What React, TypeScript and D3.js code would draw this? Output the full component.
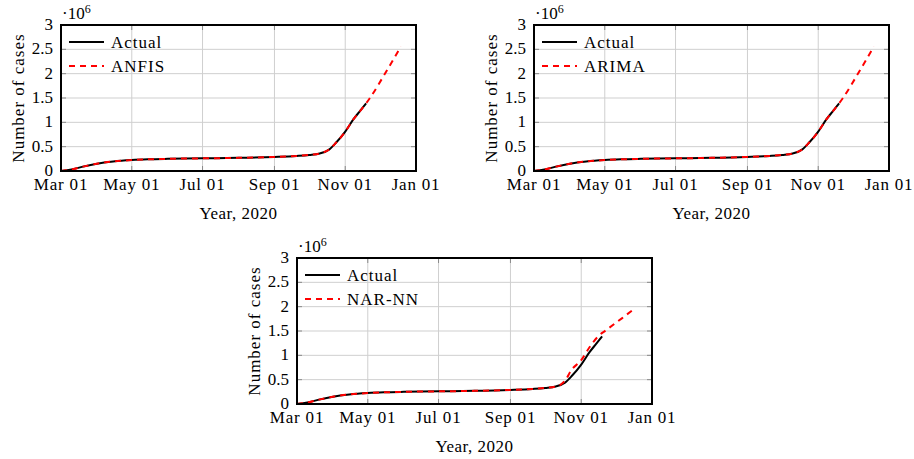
import React from "react";
import * as d3 from "d3";

const actualDates = ["2020-03-01","2020-03-10","2020-03-20","2020-04-01","2020-04-15","2020-05-01","2020-05-15","2020-06-01","2020-07-01","2020-08-01","2020-09-01","2020-09-20","2020-10-01","2020-10-10","2020-10-18","2020-10-24","2020-11-01","2020-11-08","2020-11-14","2020-11-19"];
const actualValues = [0, 0.03, 0.09, 0.15, 0.195, 0.225, 0.24, 0.25, 0.26, 0.27, 0.29, 0.31, 0.33, 0.36, 0.44, 0.58, 0.81, 1.06, 1.24, 1.39];

const anfisDates = ["2020-03-01","2020-03-10","2020-03-20","2020-04-01","2020-04-15","2020-05-01","2020-05-15","2020-06-01","2020-07-01","2020-08-01","2020-09-01","2020-09-20","2020-10-01","2020-10-10","2020-10-18","2020-10-24","2020-11-01","2020-11-08","2020-11-14","2020-11-19","2020-11-22","2020-12-07","2020-12-19"];
const anfisValues = [0, 0.03, 0.09, 0.15, 0.195, 0.225, 0.24, 0.25, 0.26, 0.27, 0.29, 0.31, 0.33, 0.36, 0.44, 0.58, 0.81, 1.06, 1.24, 1.39, 1.49, 2.07, 2.56];

const arimaDates = ["2020-03-01","2020-03-10","2020-03-20","2020-04-01","2020-04-15","2020-05-01","2020-05-15","2020-06-01","2020-07-01","2020-08-01","2020-09-01","2020-09-20","2020-10-01","2020-10-10","2020-10-18","2020-10-24","2020-11-01","2020-11-08","2020-11-14","2020-11-19","2020-11-22","2020-12-07","2020-12-19"];
const arimaValues = [0, 0.03, 0.09, 0.15, 0.195, 0.225, 0.24, 0.25, 0.26, 0.27, 0.29, 0.31, 0.33, 0.36, 0.44, 0.58, 0.81, 1.06, 1.24, 1.39, 1.49, 2.07, 2.56];

const narnnDates = ["2020-03-01","2020-03-10","2020-03-20","2020-04-01","2020-04-15","2020-05-01","2020-05-15","2020-06-01","2020-07-01","2020-08-01","2020-09-01","2020-09-20","2020-10-01","2020-10-10","2020-10-15","2020-10-19","2020-10-23","2020-11-01","2020-11-08","2020-11-16","2020-11-22","2020-12-06","2020-12-17"];
const narnnValues = [0, 0.03, 0.09, 0.15, 0.195, 0.225, 0.24, 0.25, 0.26, 0.27, 0.29, 0.31, 0.33, 0.36, 0.41, 0.51, 0.68, 0.90, 1.16, 1.40, 1.51, 1.76, 1.96];

const xTickDates = ["2020-03-01","2020-05-01","2020-07-01","2020-09-01","2020-11-01","2021-01-01"];
const yTicks = [0, 0.5, 1, 1.5, 2, 2.5, 3];
const yTickLabels = ["0", "0.5", "1", "1.5", "2", "2.5", "3"];

const parse = d3.timeParse("%Y-%m-%d");
const fmt = d3.timeFormat("%b %d");
const FONT = "'Liberation Serif', 'DejaVu Serif', serif";
const W = 355;
const H = 146;

type Pt = { d: Date; v: number };
const zip = (ds: string[], vs: number[]): Pt[] => ds.map((s, i) => ({ d: parse(s) as Date, v: vs[i] }));

function Panel({ x0, y0, fDates, fValues, label }: { x0: number; y0: number; fDates: string[]; fValues: number[]; label: string }) {
  const x = d3.scaleTime().domain([parse("2020-03-01") as Date, parse("2021-01-01") as Date]).range([0, W]);
  const y = d3.scaleLinear().domain([0, 3]).range([H, 0]);
  const line = d3.line<Pt>().x((p) => x(p.d)).y((p) => y(p.v)).curve(d3.curveMonotoneX);
  const actual = zip(actualDates, actualValues);
  const fc = zip(fDates, fValues);
  const xt = xTickDates.map((s) => parse(s) as Date);
  return (
    <g transform={`translate(${x0},${y0})`} fontFamily={FONT}>
      {xt.map((t, i) => (
        <line key={"gx" + i} x1={x(t)} x2={x(t)} y1={0} y2={H} stroke="#cfcfcf" strokeWidth={1} />
      ))}
      {yTicks.map((t, i) => (
        <line key={"gy" + i} x1={0} x2={W} y1={y(t)} y2={y(t)} stroke="#cfcfcf" strokeWidth={1} />
      ))}
      {xt.map((t, i) => (
        <g key={"tx" + i}>
          <line x1={x(t)} x2={x(t)} y1={H} y2={H - 5} stroke="#8a8a8a" strokeWidth={1} />
          <line x1={x(t)} x2={x(t)} y1={0} y2={5} stroke="#8a8a8a" strokeWidth={1} />
        </g>
      ))}
      {yTicks.map((t, i) => (
        <g key={"ty" + i}>
          <line x1={0} x2={5} y1={y(t)} y2={y(t)} stroke="#8a8a8a" strokeWidth={1} />
          <line x1={W} x2={W - 5} y1={y(t)} y2={y(t)} stroke="#8a8a8a" strokeWidth={1} />
        </g>
      ))}
      <path d={line(actual) || ""} fill="none" stroke="#000" strokeWidth={2} />
      <path d={line(fc) || ""} fill="none" stroke="#ff0000" strokeWidth={2} strokeDasharray="6,5" />
      <rect x={0} y={0} width={W} height={H} fill="none" stroke="#000" strokeWidth={2} />
      {xt.map((t, i) => (
        <text key={"lx" + i} x={x(t)} y={H + 19} textAnchor="middle" fontSize={17} letterSpacing={0.8}>
          {fmt(t)}
        </text>
      ))}
      {yTicks.map((t, i) => (
        <text key={"ly" + i} x={-8} y={y(t)} dy="0.3em" textAnchor="end" fontSize={17}>
          {yTickLabels[i]}
        </text>
      ))}
      <text x={1} y={-6} fontSize={17}>
        ·10<tspan fontSize={12} dy={-6}>6</tspan>
      </text>
      <text transform={`translate(-37,${H / 2}) rotate(-90)`} textAnchor="middle" fontSize={17} letterSpacing={1}>
        Number of cases
      </text>
      <text x={W / 2} y={H + 48} textAnchor="middle" fontSize={17} letterSpacing={0.5}>
        Year, 2020
      </text>
      <line x1={8} x2={43} y1={17} y2={17} stroke="#000" strokeWidth={2} />
      <text x={50} y={17} dy="0.35em" fontSize={17} letterSpacing={1}>Actual</text>
      <line x1={8} x2={43} y1={41} y2={41} stroke="#ff0000" strokeWidth={2} strokeDasharray="6,5" />
      <text x={50} y={41} dy="0.35em" fontSize={17} letterSpacing={1}>{label}</text>
    </g>
  );
}

export default function App() {
  return (
    <svg width={914} height={459} style={{ position: "absolute", left: 0, top: 0, background: "#fff" }}>
      <rect width={914} height={459} fill="#fff" />
      <Panel x0={61} y0={25} fDates={anfisDates} fValues={anfisValues} label="ANFIS" />
      <Panel x0={534} y0={25} fDates={arimaDates} fValues={arimaValues} label="ARIMA" />
      <Panel x0={297} y0={258} fDates={narnnDates} fValues={narnnValues} label="NAR-NN" />
    </svg>
  );
}
